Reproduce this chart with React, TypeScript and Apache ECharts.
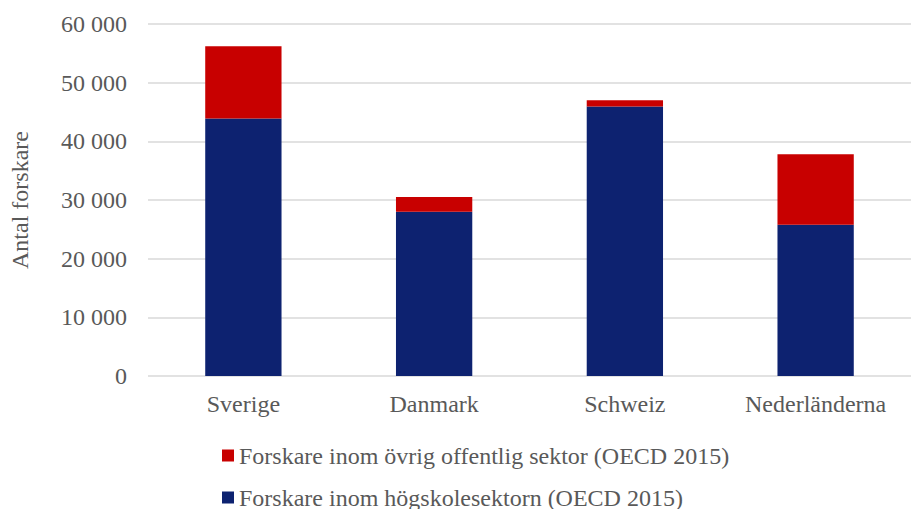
import React, { useEffect, useRef } from "react";
import * as echarts from "echarts";

const categories = ["Sverige", "Danmark", "Schweiz", "Nederländerna"];
const hogskola = [43900, 28000, 45950, 25800];
const ovrig = [12300, 2500, 1050, 12000];
const seriesNames = [
  "Forskare inom högskolesektorn (OECD 2015)",
  "Forskare inom övrig offentlig sektor (OECD 2015)",
];
const yAxisTitle = "Antal forskare";

const FONT = "'Liberation Serif', 'Times New Roman', serif";
const TEXT = "#595959";
const FS = 24;

export default function App() {
  const ref = useRef<HTMLDivElement>(null);
  useEffect(() => {
    if (!ref.current) return;
    const chart = echarts.init(ref.current, null, { renderer: "svg" });
    chart.setOption({
      animation: false,
      textStyle: { fontFamily: FONT },
      grid: { left: 147, top: 24, width: 776, height: 352, containLabel: false },
      legend: {
        orient: "vertical",
        left: 217,
        top: 438,
        height: 200,
        padding: 5,
        data: [seriesNames[1], seriesNames[0]],
        icon: "rect",
        itemWidth: 12,
        itemHeight: 12,
        itemGap: 17,
        textStyle: { fontFamily: FONT, fontSize: FS, color: TEXT, lineHeight: 25 },
      },
      xAxis: {
        type: "category",
        data: categories,
        axisLine: { show: false },
        axisTick: { show: false },
        axisLabel: { fontFamily: FONT, fontSize: FS, color: TEXT, margin: 16 },
      },
      yAxis: {
        type: "value",
        min: 0,
        max: 60000,
        interval: 10000,
        name: yAxisTitle,
        nameLocation: "middle",
        nameRotate: 90,
        nameGap: 116,
        nameTextStyle: { fontFamily: FONT, fontSize: FS, color: TEXT },
        axisLine: { show: false },
        axisTick: { show: false },
        splitLine: { lineStyle: { color: "#d9d9d9", width: 1.5 } },
        axisLabel: {
          fontFamily: FONT,
          fontSize: FS,
          color: TEXT,
          margin: 21,
          formatter: (v: number) => String(v).replace(/\B(?=(\d{3})+(?!\d))/g, " "),
        },
      },
      series: [
        {
          name: seriesNames[0],
          type: "bar",
          stack: "total",
          data: hogskola,
          barWidth: "40%",
          itemStyle: { color: "#0D2270" },
        },
        {
          name: seriesNames[1],
          type: "bar",
          stack: "total",
          data: ovrig,
          barWidth: "40%",
          itemStyle: { color: "#C80000" },
        },
      ],
    });
    return () => chart.dispose();
  }, []);
  return <div ref={ref} style={{ width: 911, height: 509, position: "absolute", left: 0, top: 0 }} />;
}
